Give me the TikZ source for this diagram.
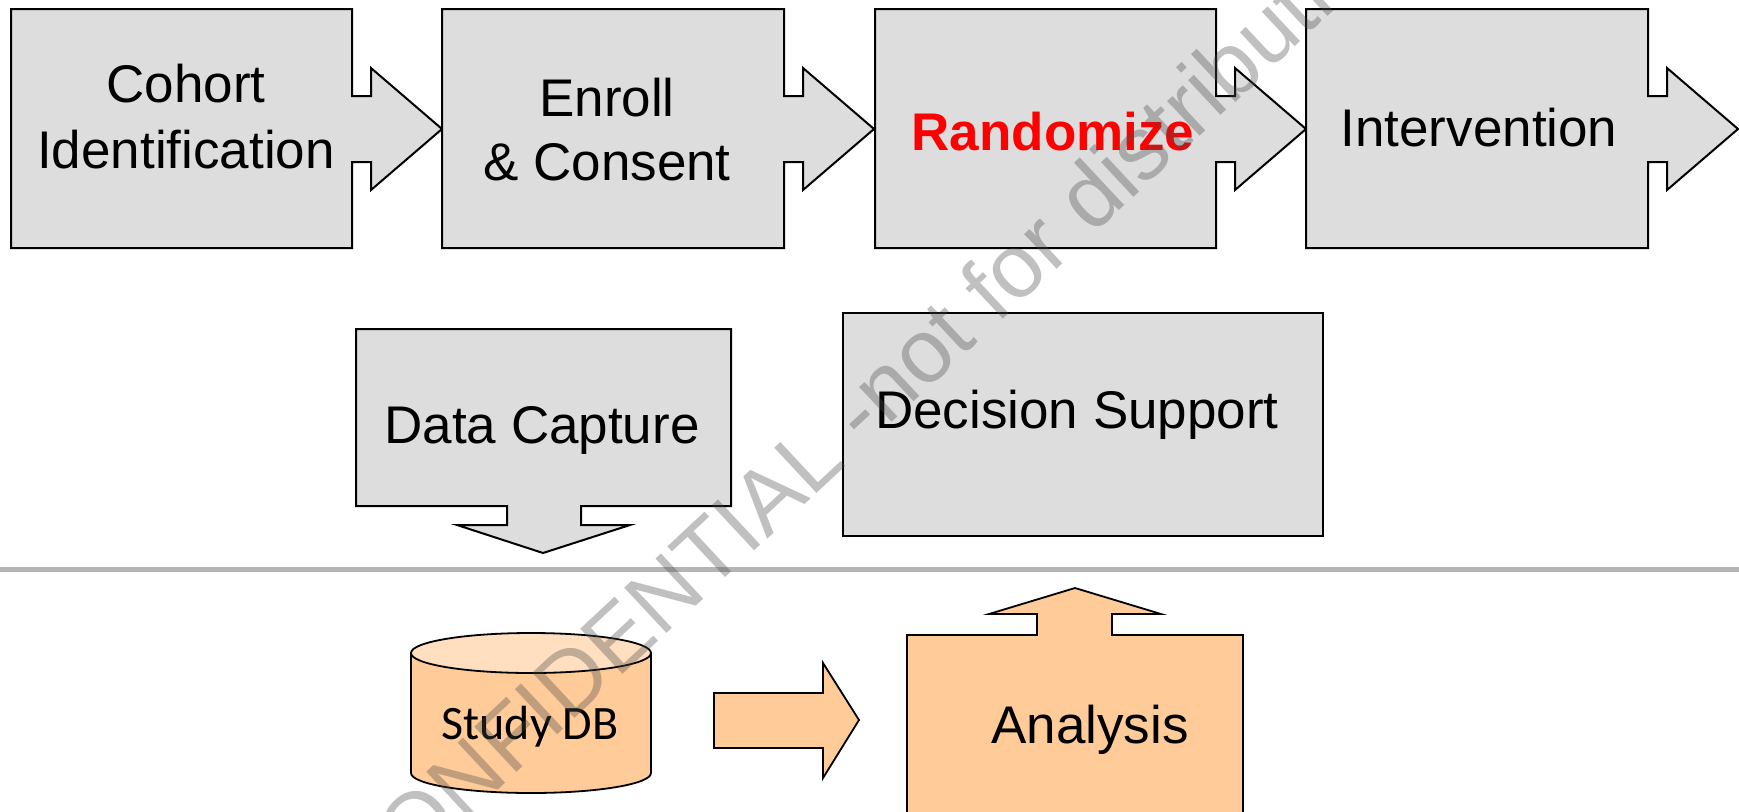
\documentclass[tikz,border=0pt]{standalone}
\usepackage{fontspec}
\setmainfont{Liberation Sans}
\newfontfamily\calfont{Carlito}
\definecolor{boxgray}{HTML}{DDDDDD}
\definecolor{peach}{HTML}{FFCC99}
\definecolor{peachtop}{HTML}{FFDFBF}
\definecolor{rulegray}{HTML}{B4B4B4}
\definecolor{wmgray}{HTML}{4B4B4B}
\tikzset{
  grayshape/.style={draw=black, line width=2pt, fill=boxgray, line join=miter},
  peachshape/.style={draw=black, line width=1.8pt, fill=peach, line join=miter},
  label/.style={inner sep=0pt, align=center, font=\fontsize{53}{66}\selectfont},
  wm/.style={inner sep=0pt, rotate=43, text=wmgray, text opacity=0.35,
             font=\fontsize{90}{90}\selectfont}
}
% process step with a right-pointing arrow on its right side
\newcommand{\stepcallout}[2]{%
  \filldraw[grayshape] (#1,9) -- (#2,9) -- (#2,96) -- ({#2+19},96) -- ({#2+19},68)
    -- ({#2+90},129) -- ({#2+19},190) -- ({#2+19},162) -- (#2,162) -- (#2,248)
    -- (#1,248) -- cycle;}
\begin{document}
\begin{tikzpicture}[x=1pt, y=-1pt]
  \fill[white] (0,0) rectangle (1739,811);
  \useasboundingbox (0,0) rectangle (1739,811);
  \clip (0,0) rectangle (1739,811);

  % top row of process steps
  \stepcallout{11}{352}
  \stepcallout{442}{784}
  \stepcallout{875}{1216}
  \stepcallout{1306}{1648}
  \node[label] (cohort) at (186,116.5) {Cohort\\Identification};
  \node[label, font=\fontsize{53}{64}\selectfont] (enroll) at (607,130) {Enroll\\\& Consent};
  \node[label, text=red, font=\fontsize{53}{64}\bfseries\selectfont] (rand) at (1053,131.5) {Randomize};
  \node[label] (interv) at (1479,127.5) {Intervention};

  % data capture with down arrow
  \filldraw[grayshape] (356,329) -- (731,329) -- (731,506) -- (581,506) -- (581,525)
    -- (630,525) -- (543,553) -- (457,525) -- (507,525) -- (507,506) -- (356,506) -- cycle;
  \node[label, anchor=base] (capture) at (542,443) {Data Capture};

  % decision support
  \filldraw[grayshape] (843,313) rectangle (1323,536);
  \node[label, anchor=base] (decision) at (1077,428) {Decision Support};

  % separator
  \draw[rulegray, line width=5pt] (0,569) -- (1739,569);

  % study database cylinder
  \filldraw[peachshape] (411,653) -- (411,773)
    arc[start angle=180, end angle=360, x radius=120pt, y radius=20pt]
    -- (651,653) -- cycle;
  \filldraw[peachshape, fill=peachtop] (531,653) ellipse[x radius=120pt, y radius=20pt];
  \node[inner sep=0pt, anchor=base, font=\calfont\fontsize{48}{48}\selectfont] (db) at (530,739) {Study DB};

  % block arrow towards analysis
  \filldraw[peachshape] (714,693) -- (823,693) -- (823,663) -- (859,720) -- (823,778)
    -- (823,748) -- (714,748) -- cycle;

  % analysis with up arrow
  \filldraw[peachshape] (907,830) -- (907,635) -- (1037,635) -- (1037,614) -- (989,614)
    -- (1075,588) -- (1161,614) -- (1112,614) -- (1112,635) -- (1243,635) -- (1243,830) -- cycle;
  \node[label, anchor=base] (analysis) at (1090,743) {Analysis};

  % watermark
  \node[wm] (mark) at (866,403) {CONFIDENTIAL -not for distribution};
\end{tikzpicture}
\end{document}
